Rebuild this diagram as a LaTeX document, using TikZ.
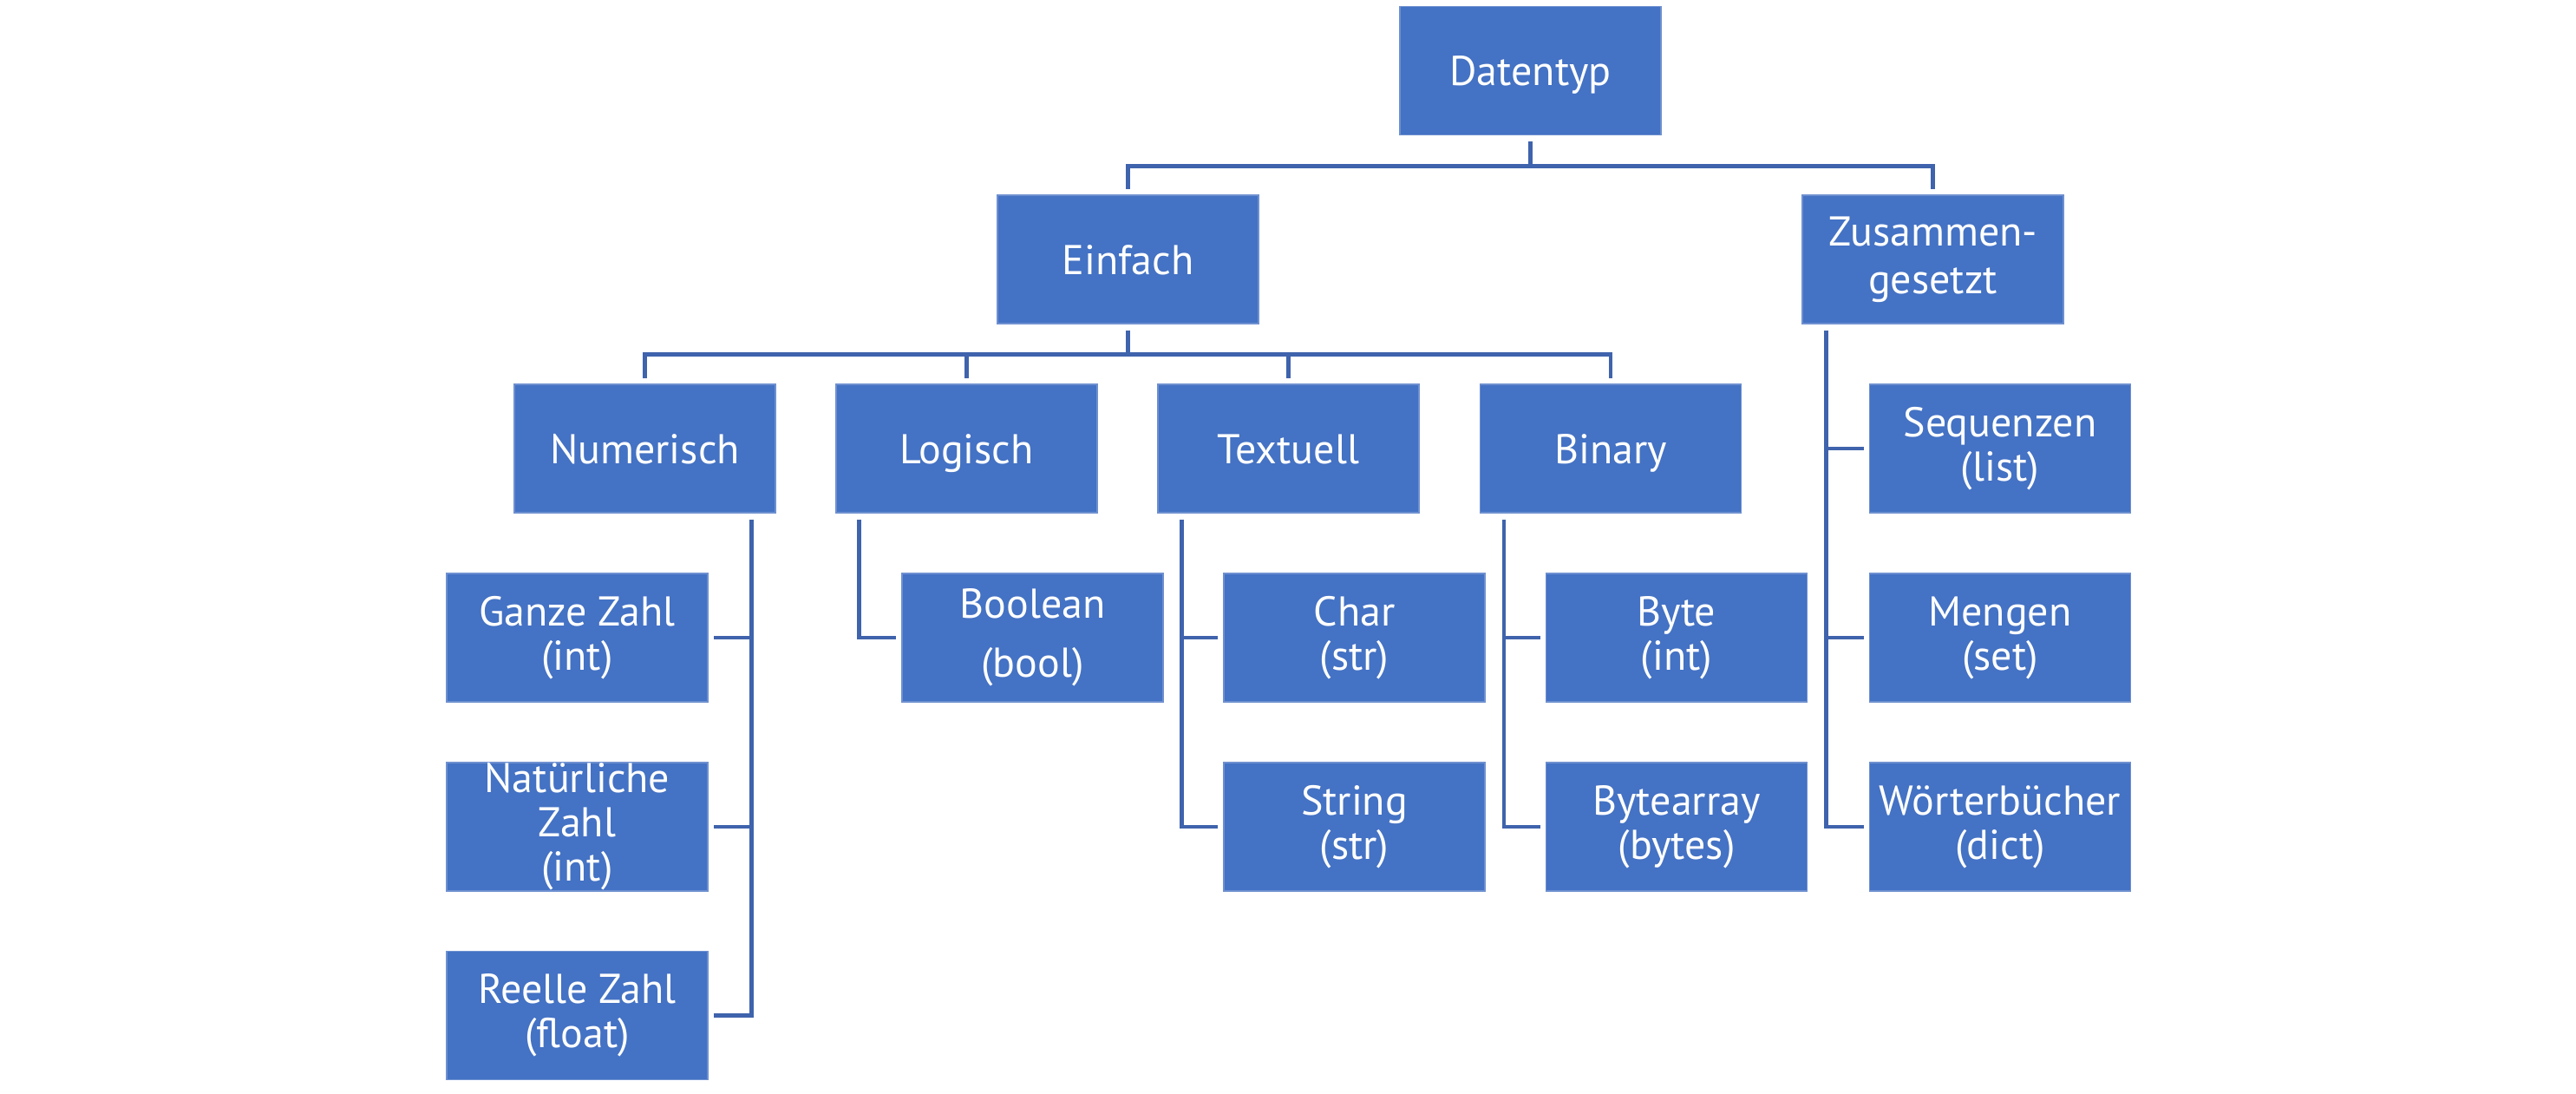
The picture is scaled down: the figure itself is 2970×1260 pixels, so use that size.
\documentclass[tikz,border=0pt]{standalone}
\usepackage{fontspec}
\setmainfont{PT Sans}
\usetikzlibrary{calc}
\definecolor{boxfill}{HTML}{4472C4}
\definecolor{boxline}{HTML}{6E90D0}
\definecolor{conncol}{HTML}{3F63AC}
\tikzset{
  box/.style={draw=boxline, line width=0.6pt, fill=boxfill, text=white,
    minimum width=150.5pt, minimum height=74pt, inner sep=0pt, align=center,
    font=\fontsize{24}{25.5}\selectfont},
  oneline/.style={text height=17pt, text depth=0pt},
  conn/.style={draw=conncol, line width=2.4pt, shorten <=3.6pt, shorten >=3.2pt}
}
\begin{document}
\begin{tikzpicture}[x=0.5pt,y=-0.5pt]
\useasboundingbox (0,0) rectangle (2970,1260);
% level 0/1
\node[box,oneline] (dt)   at (1764.5,81.5) {Datentyp};
\node[box,oneline] (einf) at (1300.5,299) {Einfach};
\node[box] (zus)  at (2228.5,299) {Zusammen-\\[2pt]gesetzt};
% level 2
\node[box,oneline] (num)  at (743.5,517)  {Numerisch};
\node[box,oneline] (log)  at (1114.5,517) {Logisch};
\node[box,oneline] (txt)  at (1485.5,517) {Textuell};
\node[box,oneline] (bin)  at (1857,517)   {Binary};
\node[box] (seq)  at (2306,517)   {Sequenzen\\(list)};
% level 3
\node[box] (gz)   at (665.5,735)  {Ganze Zahl\\(int)};
\node[box] (nat)  at (665.5,953)  {Natürliche\\Zahl\\(int)};
\node[box] (reel) at (665.5,1170.5) {Reelle Zahl\\(float)};
\node[box] (bool) at (1190.5,735) {Boolean\\[8.5pt](bool)};
\node[box] (char) at (1561.5,735) {Char\\(str)};
\node[box] (str)  at (1561.5,953) {String\\(str)};
\node[box] (byte) at (1933,735)   {Byte\\(int)};
\node[box] (barr) at (1933,953)   {Bytearray\\(bytes)};
\node[box] (meng) at (2306,735)   {Mengen\\(set)};
\node[box] (wb)   at (2306,953)   {Wörterbücher\\(dict)};
% top bus
\draw[conn] (dt.south) -- ++(0,35) -| (einf.north);
\draw[conn] (dt.south) -- ++(0,35) -| (zus.north);
% Einfach bus
\draw[conn] (einf.south) -- ++(0,35) -| (num.north);
\draw[conn] (einf.south) -- ++(0,35) -| (log.north);
\draw[conn] (einf.south) -- ++(0,35) -| (txt.north);
\draw[conn] (einf.south) -- ++(0,35) -| (bin.north);
% Numerisch children (trunk on the right)
\draw[conn] ([xshift=-14pt]num.south east) |- (gz.east);
\draw[conn] ([xshift=-14pt]num.south east) |- (nat.east);
\draw[conn] ([xshift=-14pt]num.south east) |- (reel.east);
% Logisch
\draw[conn] ([xshift=13.5pt]log.south west) |- (bool.west);
% Textuell
\draw[conn] ([xshift=14pt]txt.south west) |- (char.west);
\draw[conn] ([xshift=14pt]txt.south west) |- (str.west);
% Binary
\draw[conn] ([xshift=14pt]bin.south west) |- (byte.west);
\draw[conn] ([xshift=14pt]bin.south west) |- (barr.west);
% Zusammengesetzt
\draw[conn] ([xshift=14pt]zus.south west) |- (seq.west);
\draw[conn] ([xshift=14pt]zus.south west) |- (meng.west);
\draw[conn] ([xshift=14pt]zus.south west) |- (wb.west);
\end{tikzpicture}
\end{document}
